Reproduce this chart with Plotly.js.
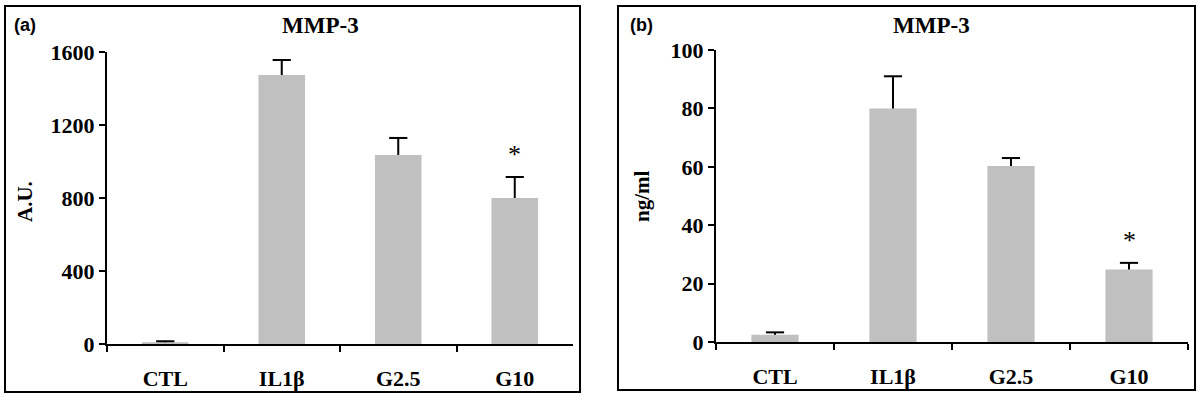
<!DOCTYPE html>
<html>
<head>
<meta charset="utf-8">
<script src="https://cdn.plot.ly/plotly-3.0.1.min.js"></script>
<style>html,body{margin:0;padding:0;background:#fff}#chart{width:1200px;height:400px}</style>
</head>
<body>
<div id="chart"></div>
<script>
// Categories and values
const categories = ["CTL", "IL1\u03b2", "G2.5", "G10"];
const auValues = [10, 1474, 1036, 800];
const auErrors = [5, 82, 93, 115];
const ngValues = [2.5, 80, 60.3, 24.8];
const ngErrors = [0.8, 11, 2.7, 2.3];
const auTicks = [0, 400, 800, 1200, 1600];
const ngTicks = [0, 20, 40, 60, 80, 100];
const panelTitle = "MMP-3";
const auTitle = "A.U.";
const ngTitle = "ng/ml";
const significant = ["G10"];

const serif = "Liberation Serif, Times New Roman, serif";
const tickFont = {family: serif, size: 22, color: "#000", weight: "bold"};
const barColor = "#c0c0c0";

function barTrace(vals, errs, xa, ya) {
  return {
    type: "bar", x: categories, y: vals, xaxis: xa, yaxis: ya,
    width: 0.4, marker: {color: barColor, line: {width: 0}},
    error_y: {type: "data", symmetric: false, array: errs,
              arrayminus: errs.map(() => 0), color: "#000", thickness: 2, width: 0},
    hoverinfo: "x+y", showlegend: false
  };
}
// caps only on the upper end of each error bar
function capTrace(vals, errs, xa, ya) {
  return {
    type: "scatter", mode: "markers", x: categories, y: vals.map((v, i) => v + errs[i]),
    xaxis: xa, yaxis: ya, cliponaxis: false,
    marker: {symbol: "line-ew", size: 13, color: "#000", line: {color: "#000", width: 2}},
    hoverinfo: "skip", showlegend: false
  };
}

const data = [
  barTrace(auValues, auErrors, "x", "y"),
  capTrace(auValues, auErrors, "x", "y"),
  barTrace(ngValues, ngErrors, "x2", "y2"),
  capTrace(ngValues, ngErrors, "x2", "y2")
];

function xAxis(domain, anchor) {
  return {
    domain: domain, anchor: anchor, type: "category", range: [-0.5, 3.5],
    showline: true, linecolor: "#000", linewidth: 2, ticks: "outside",
    tickson: "boundaries", ticklen: 6, tickwidth: 2, tickcolor: "#000",
    tickfont: tickFont, ticklabelstandoff: 14, showgrid: false, zeroline: false, fixedrange: true
  };
}
function yAxis(domain, anchor, range, ticks) {
  return {
    domain: domain, anchor: anchor, range: range, tickvals: ticks,
    ticksuffix: "\u00a0\u00a0\u00a0",
    showline: true, linecolor: "#000", linewidth: 2, ticks: "outside",
    ticklen: 6, tickwidth: 2, tickcolor: "#000", tickfont: tickFont,
    showgrid: false, zeroline: false, fixedrange: true
  };
}

const annotations = [];
[["x", "y", auValues, auErrors], ["x2", "y2", ngValues, ngErrors]].forEach(([xa, ya, v, e]) => {
  significant.forEach(cat => {
    const i = categories.indexOf(cat);
    annotations.push({xref: xa, yref: ya, x: cat, y: v[i] + e[i], text: "*", showarrow: false,
      xanchor: "center", yanchor: "bottom", yshift: 6, font: {family: serif, size: 26, color: "#000"}});
  });
});
const titleFont = {family: serif, size: 23, color: "#000", weight: "bold"};
const tagFont = {family: "Liberation Sans, Arial, sans-serif", size: 18, color: "#000", weight: "bold"};
const axTitleFont = {family: serif, size: 21, color: "#000", weight: "bold"};
[[320, 25, panelTitle, titleFont, 0], [932, 25, panelTitle, titleFont, 0],
 [25, 25, "(a)", tagFont, 0], [641, 25, "(b)", tagFont, 0],
 [25, 202, auTitle, axTitleFont, -90], [642, 196, ngTitle, axTitleFont, -90]]
  .forEach(([x, y, t, f, a]) => annotations.push({xref: "paper", yref: "paper", x: x / 1200, y: 1 - y / 400,
    text: t, showarrow: false, xanchor: "center", yanchor: "middle", textangle: a, font: f}));

const px = v => v / 1200, py = v => 1 - v / 400;
const shapes = [
  {type: "rect", xref: "paper", yref: "paper", x0: px(5), x1: px(580), y0: py(6), y1: py(392),
   line: {color: "#000", width: 2}},
  {type: "rect", xref: "paper", yref: "paper", x0: px(618), x1: px(1195), y0: py(6), y1: py(390),
   line: {color: "#000", width: 2}}
];

const layout = {
  width: 1200, height: 400, margin: {l: 0, r: 0, t: 0, b: 0},
  paper_bgcolor: "#fff", plot_bgcolor: "rgba(0,0,0,0)", showlegend: false,
  xaxis: xAxis([107/1200, 573/1200], "y"),
  yaxis: yAxis([1 - 344/400, 1 - 52/400], "x", [0, 1600], auTicks),
  xaxis2: xAxis([716/1200, 1188/1200], "y2"),
  yaxis2: yAxis([1 - 342/400, 1 - 50/400], "x2", [0, 100], ngTicks),
  annotations: annotations, shapes: shapes
};

Plotly.newPlot("chart", data, layout, {displayModeBar: false, staticPlot: true});
</script>
</body>
</html>
